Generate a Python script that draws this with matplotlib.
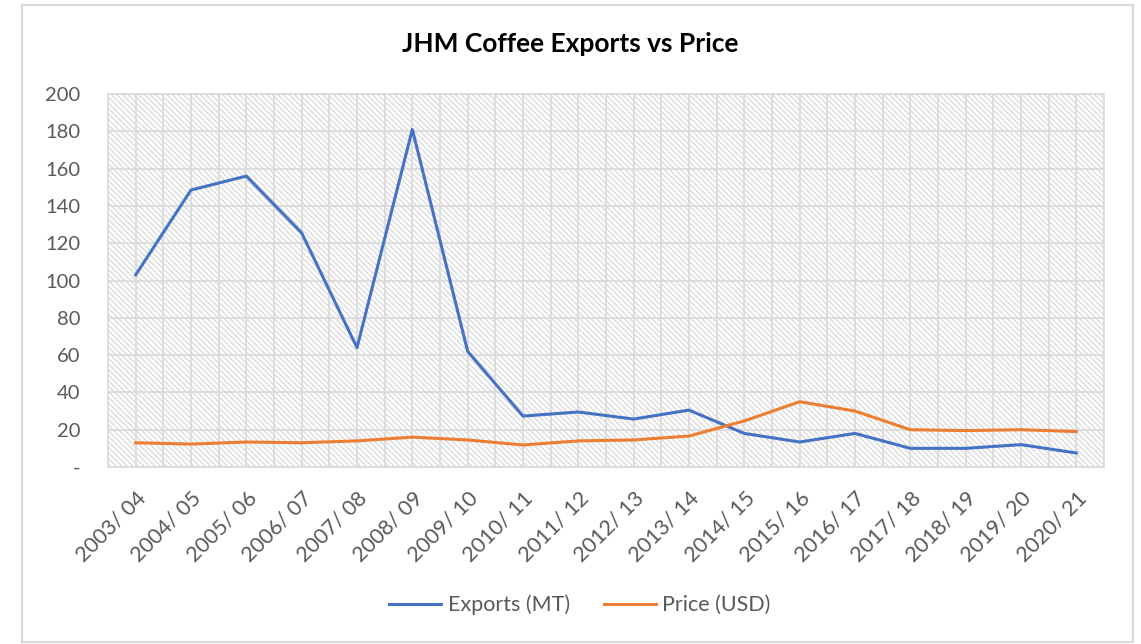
import matplotlib
matplotlib.use("Agg")
import matplotlib.pyplot as plt
from matplotlib.patches import Rectangle
from matplotlib.ticker import FixedLocator

seasons = ["2003/ 04", "2004/ 05", "2005/ 06", "2006/ 07", "2007/ 08",
           "2008/ 09", "2009/ 10", "2010/ 11", "2011/ 12", "2012/ 13",
           "2013/ 14", "2014/ 15", "2015/ 16", "2016/ 17", "2017/ 18",
           "2018/ 19", "2019/ 20", "2020/ 21"]
exports_mt = [103, 148.5, 156, 125.5, 64, 181, 62, 27.3, 29.5, 25.7,
              30.5, 18, 13.4, 18, 10, 10, 12, 7.5]
price_usd = [13, 12.3, 13.4, 13, 14, 16, 14.5, 11.8, 14, 14.5,
             16.6, 24.7, 35, 30, 20, 19.5, 20, 19]
yticks = [0, 20, 40, 60, 80, 100, 120, 140, 160, 180, 200]
ytick_labels = ["-"] + [str(v) for v in yticks[1:]]

plt.rcParams["font.family"] = ["Lato", "DejaVu Sans"]
plt.rcParams["hatch.linewidth"] = 1.0
plt.rcParams["hatch.color"] = "#dcdcdc"

TXT = "#595959"
GRID = "#d9d9d9"

fig = plt.figure(figsize=(11.41, 6.44), dpi=100)
fig.patches.append(Rectangle((22 / 1141, 1 - 642 / 644), 1111 / 1141, 637 / 644,
                             transform=fig.transFigure, fill=False,
                             edgecolor=GRID, linewidth=1.5))
ax = fig.add_axes([108 / 1141, 1 - 467 / 644, 996 / 1141, 373 / 644])

# light diagonal hatch behind the plot
ax.add_patch(Rectangle((0, 0), 1, 1, transform=ax.transAxes, facecolor="white",
                       edgecolor="#dcdcdc", linewidth=0, hatch="\\" * 6, zorder=0))

x = range(len(seasons))
ax.plot(x, exports_mt, color="#4472c4", linewidth=2.2, label="Exports (MT)", zorder=3)
ax.plot(x, price_usd, color="#ed7d31", linewidth=2.2, label="Price (USD)", zorder=3)

ax.set_xlim(-0.5, len(seasons) - 0.5)
ax.set_ylim(0, 200)
ax.set_xticks(list(x))
ax.set_xticklabels(seasons, rotation=45, ha="right", rotation_mode="anchor",
                   fontsize=15.5, color=TXT)
ax.xaxis.set_minor_locator(FixedLocator([i + 0.5 for i in x]))
ax.set_yticks(yticks)
ax.set_yticklabels(ytick_labels, fontsize=14.5, color=TXT)
ax.tick_params(axis="both", which="both", length=0)
ax.tick_params(axis="x", pad=15)
ax.tick_params(axis="y", pad=20)
ax.grid(True, which="major", color=GRID, linewidth=1.2, zorder=1)
ax.grid(True, which="minor", axis="x", color=GRID, linewidth=1.2, zorder=1)
ax.set_axisbelow(True)
for s in ax.spines.values():
    s.set_color(GRID)
    s.set_linewidth(1.2)

fig.text(0.5, 1 - 44 / 644, "JHM Coffee Exports vs Price", ha="center", va="center",
         fontsize=19, fontweight="bold", color="black")
fig.legend(loc="center", bbox_to_anchor=(580 / 1141, 1 - 605 / 644), ncol=2,
           frameon=False, fontsize=15.5, labelcolor=TXT, handlelength=2.4,
           columnspacing=1.6, handletextpad=0.3)

fig.savefig("out.png", dpi=100)
